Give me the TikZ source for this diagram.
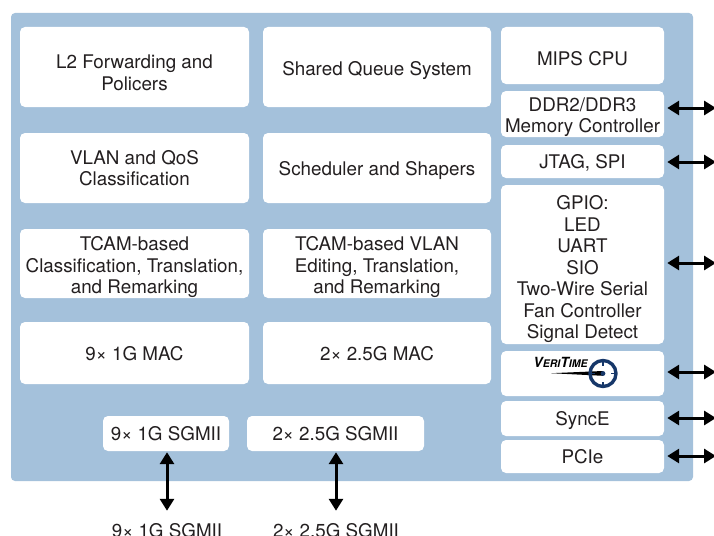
\documentclass[tikz,border=0pt]{standalone}
\usepackage{fontspec}
\setmainfont{TeX Gyre Heros}
\usetikzlibrary{arrows.meta}

\definecolor{panelblue}{RGB}{164,193,219}
\definecolor{textgray}{RGB}{35,31,32}
\definecolor{clocknavy}{RGB}{22,55,105}

\tikzstyle{block}=[fill=white, rounded corners=5pt, inner sep=0pt]
\tikzstyle{blocktext}=[inner sep=0pt, align=center, text=textgray, font=\fontsize{18.8}{21.5}\selectfont, yshift=-3pt]
\tikzstyle{portname}=[inner sep=0pt, anchor=base, text=textgray, font=\fontsize{18.8}{21.5}\selectfont]
\tikzstyle{arrow}=[line width=3pt, {Triangle[length=12pt,width=14pt]}-{Triangle[length=12pt,width=14pt]}]

\begin{document}
\begin{tikzpicture}[x=1pt, y=-1pt]
    \useasboundingbox (0,0) rectangle (714,535);
    \fill[panelblue, rounded corners=4pt] (11,13) rectangle (693,481);

    % left and middle columns
    \node[block, minimum width=229pt, minimum height=80pt, label={[blocktext, yshift=-3pt]center:{L2 Forwarding and\\Policers}}] (l2) at (134.5,67) {};
    \node[block, minimum width=228pt, minimum height=80pt, label={[blocktext, yshift=-1pt]center:Shared Queue System}] (queue) at (377,67) {};
    \node[block, minimum width=229pt, minimum height=70pt, label={[blocktext, yshift=3pt]center:{VLAN and QoS\\Classification}}] (vlan) at (134.5,168) {};
    \node[block, minimum width=228pt, minimum height=70pt, label={[blocktext]center:Scheduler and Shapers}] (sched) at (377,168) {};
    \node[block, minimum width=229pt, minimum height=69pt, label={[blocktext, yshift=-1pt]center:{TCAM-based\\Classification, Translation,\\and Remarking}}] (tcam1) at (134.5,263.5) {};
    \node[block, minimum width=228pt, minimum height=69pt, label={[blocktext, yshift=-1pt]center:{TCAM-based VLAN\\Editing, Translation,\\and Remarking}}] (tcam2) at (377,263.5) {};
    \node[block, minimum width=229pt, minimum height=62pt, label={[blocktext, yshift=2pt]center:9× 1G MAC}] (mac1) at (134.5,353) {};
    \node[block, minimum width=228pt, minimum height=62pt, label={[blocktext, yshift=2pt]center:2× 2.5G MAC}] (mac2) at (377,353) {};
    \node[block, minimum width=126pt, minimum height=35pt, label={[blocktext, yshift=3pt]center:9× 1G SGMII}] (sg1) at (166,433.5) {};
    \node[block, minimum width=177pt, minimum height=35pt, label={[blocktext, yshift=3pt]center:2× 2.5G SGMII}] (sg2) at (335.5,433.5) {};

    % right column
    \node[block, minimum width=163pt, minimum height=57pt, label={[blocktext]center:MIPS CPU}] (cpu) at (582.5,55.5) {};
    \node[block, minimum width=163pt, minimum height=46pt, label={[blocktext]center:{DDR2/DDR3\\Memory Controller}}] (ddr) at (582.5,114) {};
    \node[block, minimum width=163pt, minimum height=33pt, label={[blocktext, yshift=2pt]center:{JTAG, SPI}}] (jtag) at (582.5,161.5) {};
    \node[block, minimum width=163pt, minimum height=159pt, label={[blocktext, yshift=-2pt]center:{GPIO:\\LED\\UART\\SIO\\Two-Wire Serial\\Fan Controller\\Signal Detect}}] (gpio) at (582.5,264.5) {};
    \node[block, minimum width=163pt, minimum height=45pt] (veri) at (582.5,373.5) {};
    \node[block, minimum width=163pt, minimum height=35pt, label={[blocktext, yshift=1pt]center:SyncE}] (synce) at (582.5,418.5) {};
    \node[block, minimum width=163pt, minimum height=33pt, label={[blocktext, yshift=3pt]center:PCIe}] (pcie) at (582.5,456.5) {};

    % VeriTime logo
    \node[inner sep=0pt, anchor=base, text=black, font=\bfseries\itshape\fontsize{14}{14}\selectfont] (veritxt) at ([xshift=-22pt, yshift=6.5pt]veri.center)
        {V{\fontsize{10.5}{10.5}\selectfont ERI}T{\fontsize{10.5}{10.5}\selectfont IME}};
    \coordinate (clock) at ([xshift=20.5pt, yshift=0pt]veri.center);
    \fill (clock) ++(-52,-0.3) -- ++(52,-2.2) -- ++(0,4.8) -- cycle;
    \draw[clocknavy, line width=3.4pt] (clock) circle (13);
    \foreach \a in {0,90,180,270}
        \draw[clocknavy, line width=1.4pt] (clock) ++(\a:11.5) -- ++(\a+180:3.5);
    \fill[clocknavy] (clock) circle (2.4);

    % outside ports
    \coordinate (ddrR) at (716,108);
    \coordinate (jtagR) at (716,162);
    \coordinate (gpioR) at (716,263);
    \coordinate (veriR) at (716,372);
    \coordinate (synceR) at (716,418);
    \coordinate (pcieR) at (716,456);
    \node[portname] (sg1out) at (167,537) {9× 1G SGMII};
    \node[portname] (sg2out) at (336,537) {2× 2.5G SGMII};

    \draw[arrow, shorten <=3pt] (ddr.east |- ddrR) -- (ddrR);
    \draw[arrow, shorten <=3pt] (jtag.east |- jtagR) -- (jtagR);
    \draw[arrow, shorten <=3pt] (gpio.east |- gpioR) -- (gpioR);
    \draw[arrow, shorten <=3pt] (veri.east |- veriR) -- (veriR);
    \draw[arrow, shorten <=3pt] (synce.east |- synceR) -- (synceR);
    \draw[arrow, shorten <=3pt] (pcie.east |- pcieR) -- (pcieR);
    \draw[arrow, shorten <=1pt, shorten >=12pt] (sg1.south -| sg1out) -- (sg1out.north);
    \draw[arrow, shorten <=1pt, shorten >=12pt] (sg2.south -| sg2out) -- (sg2out.north);
  \end{tikzpicture}
\end{document}
